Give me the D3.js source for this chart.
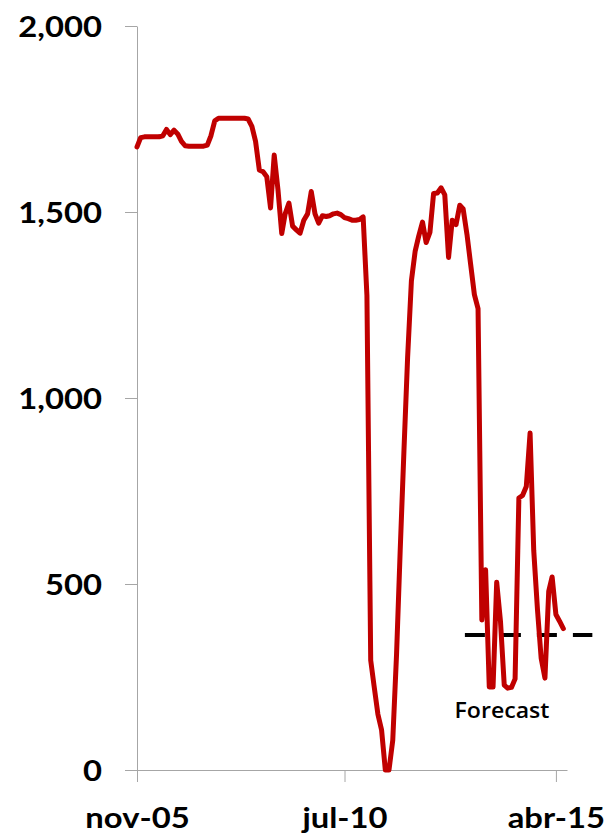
<!DOCTYPE html>
<html>
<head>
<meta charset="utf-8">
<script src="https://cdn.jsdelivr.net/npm/d3@7"></script>
<style>
  body { margin: 0; background: #fff; }
  svg { display: block; }
</style>
</head>
<body>
<svg id="chart" width="607" height="836"></svg>
<script>
// Monthly output series (thousand barrels per day), starting Nov 2005
const firstMonth = "2005-11";
const production = [
  1675, 1700, 1702, 1702, 1702, 1702, 1702, 1705, 1722, 1708,
  1720, 1710, 1690, 1678, 1677, 1677, 1677, 1677, 1677, 1680,
  1705, 1745, 1752, 1752, 1752, 1752, 1752, 1752, 1752, 1752,
  1750, 1730, 1690, 1613, 1608, 1595, 1511, 1653, 1560, 1442,
  1495, 1524, 1462, 1452, 1443, 1478, 1495, 1555, 1495, 1470,
  1490, 1488, 1490, 1495, 1497, 1493, 1485, 1482, 1478, 1478,
  1480, 1487, 1275, 295, 225, 150, 108, 0, 0, 80,
  310, 590, 860, 1110, 1315, 1395, 1435, 1473, 1418, 1445,
  1550, 1551, 1565, 1546, 1378, 1478, 1466, 1518, 1508, 1440,
  1360, 1278, 1240, 403, 538, 223, 223, 505, 400, 228,
  220, 222, 245, 731, 738, 762, 906, 590, 430, 300,
  247, 480, 519, 418, 400, 380
];
const lastAxisMonth = "2015-07";

const yTicks = [0, 500, 1000, 1500, 2000];
const xTickMonths = ["2005-11", "2010-07", "2015-04"];
const xTickLabels = ["nov-05", "jul-10", "abr-15"];

const forecastValue = 363;
const forecastSpan = ["2013-03-15", "2016-01-25"];
const forecastLabel = "Forecast";

// ---- scales ----
const parseMonth = d3.timeParse("%Y-%m");
const parseDay = d3.timeParse("%Y-%m-%d");
const start = parseMonth(firstMonth);
const series = production.map((v, i) => ({ date: d3.timeMonth.offset(start, i), value: v }));

const x = d3.scaleTime()
  .domain([start, parseMonth(lastAxisMonth)])
  .range([137, 567]);
const y = d3.scaleLinear().domain([0, 2000]).range([770, 26]);

const svg = d3.select("#chart");
const axisColor = "#a6a6a6";
const font = "Lato, 'Noto Sans', sans-serif";
const stretch = 1.17;

// ---- y axis ----
const gy = svg.append("g")
  .attr("transform", "translate(137,0)")
  .call(d3.axisLeft(y).tickValues(yTicks).tickFormat(d3.format(","))
    .tickSize(12).tickSizeOuter(0));
gy.select(".domain").attr("stroke", axisColor).attr("stroke-width", 1);
gy.selectAll(".tick line").attr("stroke", axisColor).attr("stroke-width", 1);
gy.selectAll(".tick text")
  .attr("x", -35 / stretch)
  .attr("dy", "0.36em")
  .attr("transform", `scale(${stretch},1)`)
  .style("font-family", font)
  .style("font-weight", "700")
  .style("font-size", "28px")
  .attr("fill", "#000");

// ---- x axis ----
const gx = svg.append("g")
  .attr("transform", `translate(0,${y(0)})`)
  .call(d3.axisBottom(x)
    .tickValues(xTickMonths.map(parseMonth))
    .tickFormat((d, i) => xTickLabels[i])
    .tickSize(12).tickSizeOuter(0));
gx.select(".domain").attr("stroke", axisColor).attr("stroke-width", 1);
gx.selectAll(".tick line").attr("stroke", axisColor).attr("stroke-width", 1);
gx.selectAll(".tick text")
  .attr("y", 58)
  .attr("dy", 0)
  .attr("transform", `scale(${stretch},1)`)
  .style("font-family", font)
  .style("font-weight", "700")
  .style("font-size", "28px")
  .attr("fill", "#000");

// ---- forecast level ----
svg.append("line")
  .attr("x1", x(parseDay(forecastSpan[0])))
  .attr("x2", x(parseDay(forecastSpan[1])))
  .attr("y1", y(forecastValue))
  .attr("y2", y(forecastValue))
  .attr("stroke", "#000")
  .attr("stroke-width", 4)
  .attr("stroke-dasharray", "20,16");

// ---- output line ----
const line = d3.line().x(d => x(d.date)).y(d => y(d.value));
svg.append("path")
  .datum(series)
  .attr("d", line)
  .attr("fill", "none")
  .attr("stroke", "#c00000")
  .attr("stroke-width", 5)
  .attr("stroke-linejoin", "round")
  .attr("stroke-linecap", "round");

// ---- forecast label ----
svg.append("text")
  .attr("transform", `translate(502,718) scale(1.1,1)`)
  .attr("text-anchor", "middle")
  .style("font-family", "'Open Sans', 'Noto Sans', sans-serif")
  .style("font-size", "21px")
  .style("font-weight", "600")
  .attr("fill", "#000")
  .text(forecastLabel);
</script>
</body>
</html>
